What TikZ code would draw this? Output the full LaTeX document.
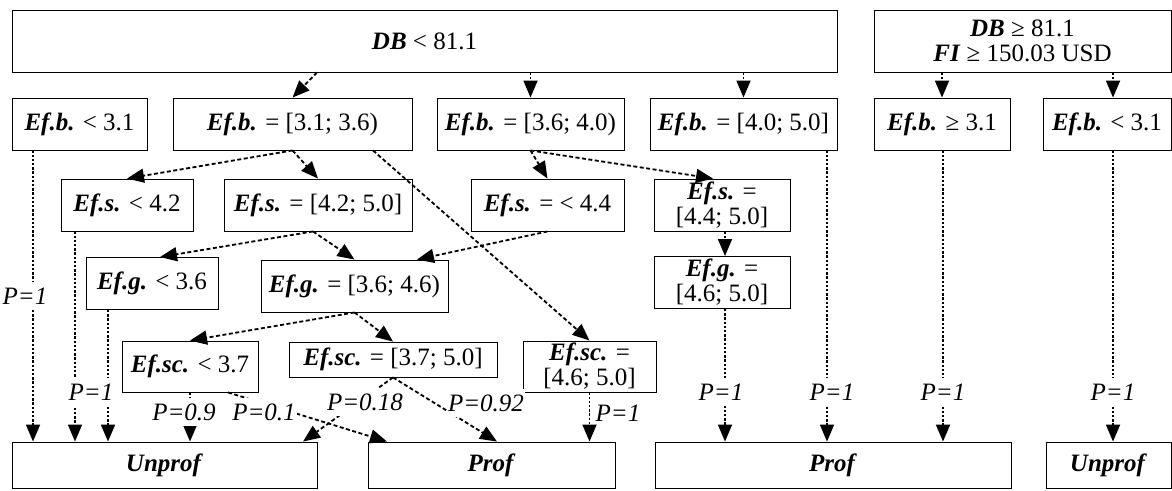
\documentclass[tikz,border=0pt]{standalone}
\usepackage{fontspec}
\setmainfont{Liberation Serif}
\usetikzlibrary{arrows.meta}
\newcommand{\fac}[1]{\textbf{\textit{#1}}}

\begin{document}
\begin{tikzpicture}[x=1pt,y=-1pt,
  every node/.style={font=\fontsize{25}{25}\selectfont},
  box/.style={draw,line width=0.9pt,inner sep=2pt,align=center},
  plbl/.style={fill=white,inner xsep=1.5pt,inner ysep=6pt,font=\fontsize{25}{25}\selectfont\itshape},
  arr/.style={-{Triangle[length=17pt,width=14pt]},line width=1.8pt},
  dline/.style={arr,dash pattern=on 4pt off 2.5pt},
  vline/.style={arr,dash pattern=on 2.4pt off 1.8pt}]
\useasboundingbox (0,0) rectangle (1172,490);

% root conditions
\node[box,minimum width=825pt,minimum height=62pt] (dbl) at (424.5,41) {\fac{DB} < 81.1};
\node[box,minimum width=297pt,minimum height=62pt] (dbh) at (1022.5,41) {\fac{DB} ≥ 81.1\\\fac{FI} ≥ 150.03 USD};

% Ef.b.
\foreach \n/\x/\w/\txt in {b1/79.5/135/{\fac{Ef.b.} < 3.1}, b2/292.5/239/{\fac{Ef.b.} = [3.1; 3.6)},
    b3/530.5/187/{\fac{Ef.b.} = [3.6; 4.0)}, b4/743.5/187/{\fac{Ef.b.} = [4.0; 5.0]},
    b5/942/136/{\fac{Ef.b.} ≥ 3.1}, b6/1107/128/{\fac{Ef.b.} < 3.1}}
  \node[box,minimum width=\w pt,minimum height=52pt] (\n) at (\x,124) {\txt};

% Ef.s.
\foreach \n/\x/\w/\txt in {s1/127/132/{\fac{Ef.s.} < 4.2}, s2/318/188/{\fac{Ef.s.} = [4.2; 5.0]},
    s3/547.5/153/{\fac{Ef.s.} = < 4.4}, s4/722/136/{\fac{Ef.s.} =\\{}[4.4; 5.0]}}
  \node[box,minimum width=\w pt,minimum height=52pt] (\n) at (\x,205) {\txt};

% Ef.g.
\foreach \n/\x/\y/\w/\txt in {g1/152/283.5/132/{\fac{Ef.g.} < 3.6}, g2/354.5/286/187/{\fac{Ef.g.} = [3.6; 4.6)},
    g3/722/282.5/136/{\fac{Ef.g.} =\\{}[4.6; 5.0]}}
  \node[box,minimum width=\w pt,minimum height=52pt] (\n) at (\x,\y) {\txt};

% Ef.sc.
\foreach \n/\x/\y/\w/\h/\txt in {c1/190/366.5/136/51/{\fac{Ef.sc.} < 3.7}, c2/393/359.5/208/35/{\fac{Ef.sc.} = [3.7; 5.0]},
    c3/589.5/366.5/133/51/{\fac{Ef.sc.} =\\{}[4.6; 5.0]}}
  \node[box,minimum width=\w pt,minimum height=\h pt] (\n) at (\x,\y) {\txt};

% results
\foreach \n/\x/\w/\txt in {u1/164.5/305/Unprof, p1/491.5/247/Prof, p2/833/356/Prof, u2/1108.5/125/Unprof}
  \node[box,minimum width=\w pt,minimum height=46pt] (\n) at (\x,465) {\fac{\txt}};

% splits
\draw[dline] ([xshift=-107.5pt]dbl.south) -- (b2.north);
\foreach \a/\b in {dbl/b3,dbl/b4,dbh/b5}
  \draw[vline] (\b.north |- \a.south) -- (\b.north);
\path ([xshift=6pt]b6.north) coordinate (t6);
\draw[vline] (t6 |- dbh.south) -- (t6);

\draw[dline] (b2.south) -- (s1.north);
\draw[dline] (b2.south) -- (s2.north);
\draw[dline] ([xshift=80.5pt]b2.south) -- (c3.north);
\draw[dline] (b3.south) -- (s3.north);
\draw[dline] (b3.south) -- ([xshift=-9pt]s4.north);
\draw[vline] ([xshift=3pt]s4.south) coordinate (t) -- (t |- g3.north);
\draw[dline] ([xshift=-5pt]s2.south) -- ([xshift=8pt]g1.north);
\draw[dline] ([xshift=-5pt]s2.south) -- (g2.north);
\draw[dline] (s3.south) -- ([xshift=62.5pt]g2.north);
\draw[dline] (g2.south) -- (c1.north);
\draw[dline] (g2.south) -- (c2.north);
\draw[dline] ([xshift=38pt]c1.south) -- ([xshift=-104.5pt]p1.north);
\draw[dline] (c2.south) -- ([xshift=138.5pt]u1.north);
\draw[dline] (c2.south) -- ([xshift=5.5pt]p1.north);

% leaves
\foreach \n/\s/\m in {b1/-46.5/u1, s1/-52/u1, g1/-44/u1, c1/0/u1, c3/0/p1,
    g3/3/p2, b4/83.5/p2, b5/1/p2, b6/6/u2}
  \draw[vline] ([xshift=\s pt]\n.south) coordinate (t) -- (t |- \m.north);

% probabilities
\node[plbl] (pa) at (25,296) {P=1};
\node[plbl] (pb) at (91,392) {P=1};
\node[plbl] (pc) at (184,412) {P=0.9};
\node[plbl] (pd) at (264,412) {P=0.1};
\node[plbl] (pe) at (365,402) {P=0.18};
\node[plbl] (pf) at (486,403) {P=0.92};
\node[plbl,fill=none] (pg) at (618,413) {P=1};
\foreach \x/\n in {721/ph, 832/pi, 943/pj, 1113/pk}
  \node[plbl] (\n) at (\x,392) {P=1};
\end{tikzpicture}
\end{document}
